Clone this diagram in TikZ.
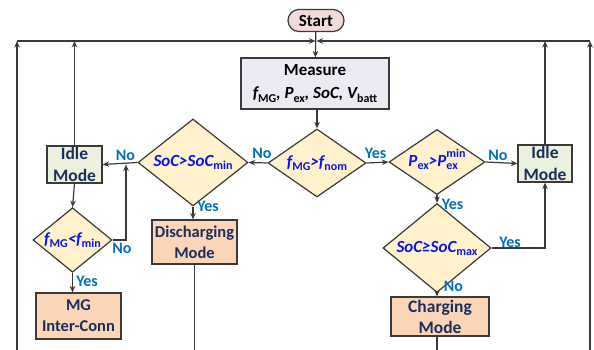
\documentclass[tikz,border=0pt]{standalone}
\usepackage{fontspec}
\setmainfont{Carlito}
\usetikzlibrary{shapes.geometric,arrows.meta}

\definecolor{linegray}{HTML}{3A3A3A}
\definecolor{startfill}{HTML}{F2DCDB}
\definecolor{measfill}{HTML}{ECEAF2}
\definecolor{idlefill}{HTML}{EBF1DE}
\definecolor{peachfill}{HTML}{FBD5B8}
\definecolor{diafill}{HTML}{FFF2CC}
\definecolor{navytext}{HTML}{1B2F5C}
\definecolor{diatext}{HTML}{0A14F0}
\definecolor{lblblue}{HTML}{0070C0}

% subscript / stacked sub-superscript helpers
\newcommand\subfnt{\fontsize{12}{12}\selectfont\upshape}
\newcommand\lo[1]{\raisebox{-0.4ex}{\subfnt #1}}
\newsavebox\hibox
\newsavebox\lobox
\newcommand\lohi[2]{\sbox\lobox{\subfnt #1}\sbox\hibox{\subfnt #2}%
  \rlap{\raisebox{1.05ex}{\usebox\hibox}}\raisebox{-0.45ex}{\usebox\lobox}%
  \ifdim\wd\hibox>\wd\lobox\hspace{\dimexpr\wd\hibox-\wd\lobox\relax}\fi}

\tikzset{
  base/.style={draw=linegray, line width=1.2pt, inner sep=0pt, align=center},
  startbox/.style={base, rounded corners=11pt, fill=startfill,
    minimum width=56pt, minimum height=22pt,
    font=\fontsize{17}{20}\selectfont\bfseries},
  measbox/.style={base, fill=measfill, minimum width=148pt, minimum height=51pt,
    font=\fontsize{17}{23}\selectfont\bfseries},
  idlebox/.style={base, fill=idlefill, text=navytext,
    font=\fontsize{17.5}{21.5}\selectfont\bfseries},
  modebox/.style={base, fill=peachfill, text=navytext,
    font=\fontsize{16.5}{21}\selectfont\bfseries},
  dia/.style={base, diamond, fill=diafill, text=diatext,
    text height=8pt, text depth=0pt,
    font=\fontsize{17}{20}\selectfont\bfseries\itshape},
  lbl/.style={text=lblblue, inner sep=0pt, font=\fontsize{16}{18}\selectfont\bfseries},
  wire/.style={line width=1.2pt, draw=linegray},
  conn/.style={wire, -{Stealth[length=6.5pt,width=5.5pt]}},
}

\begin{document}
\begin{tikzpicture}[x=1pt,y=-1pt]
\useasboundingbox (0,0) rectangle (594,350);

% blocks
\node[startbox] (start) at (316,20.5) {Start};
\node[measbox] (meas) at (315,83.5)
  {Measure\\ \itshape f\lo{MG}, P\lo{ex}, SoC, V\lo{batt}};
\node[dia, minimum width=98pt, minimum height=62pt] (dnom) at (317,163)
  {f\lo{MG}>f\lo{nom}};
\node[dia, minimum width=110pt, minimum height=69pt] (dsmin) at (193,162.5)
  {SoC>SoC\lo{min}};
\node[dia, minimum width=96pt, minimum height=62pt] (dpex) at (437,162)
  {P\lo{ex}>P\lohi{ex}{min}};
\node[idlebox, minimum width=55pt, minimum height=37pt] (idleL) at (74.5,164.5)
  {Idle\\Mode};
\node[idlebox, minimum width=54pt, minimum height=37pt] (idleR) at (545,163.5)
  {Idle\\Mode};
\node[dia, minimum width=79pt, minimum height=64pt] (dfmin) at (72.5,240)
  {f\lo{MG}<f\lo{min}};
\node[modebox, minimum width=85pt, minimum height=46pt] (mgic) at (78.5,316)
  {MG\\Inter-Conn};
\node[modebox, minimum width=85pt, minimum height=44pt] (dis) at (194.5,242)
  {Discharging\\Mode};
\node[dia, minimum width=108pt, minimum height=62pt] (dsmax) at (437,248)
  {SoC≥SoC\lo{max}};
\node[modebox, minimum width=98pt, minimum height=39pt,
  font=\fontsize{17.5}{21}\selectfont\bfseries] (chg) at (440,316.5)
  {Charging\\Mode};

% return bus along the top
\coordinate (bus) at (316,41);
\coordinate (busL) at (17,41);
\coordinate (busR) at (590,41);
\coordinate (lowL) at (17,350);
\coordinate (lowR) at (590,350);
\coordinate (disEnd) at (dis.south |- lowL);
\coordinate (chgTop) at (dsmax.south |- chg.south);
\coordinate (chgEnd) at (dsmax.south |- lowL);
\coordinate (join) at (126,164.5);

\draw[conn] (start) -- (meas);
\draw[conn] (lowL) -- (busL);
\draw[conn] (lowR) -- (busR);
\draw[conn] (idleL.north) -- (idleL.north |- busL);
\draw[conn] (idleR.north) -- (idleR.north |- busR);
\draw[conn] (busL) -- ([xshift=-0.5pt]bus);
\draw[conn] (busR) -- ([xshift=0.5pt]bus);

% decision flow
\draw[conn] (meas.south -| dnom.north) -- (dnom.north);
\draw[conn] (dnom.west) -- (dsmin.east);
\draw[conn] (dsmin.west) -- (idleL.east);
\draw[conn] (dfmin.east) -| (join);
\draw[conn] (idleL.south) -- (dfmin.north);
\draw[conn] (dfmin.south) -- (dfmin.south |- mgic.north);
\draw[conn] (dsmin.south) -- (dsmin.south |- dis.north);
\draw[wire] (dis.south) -- (disEnd);
\draw[conn] (dnom.east) -- (dpex.west);
\draw[conn] (dpex.east) -- (idleR.west);
\draw[conn] (dpex.south) -- (dsmax.north);
\draw[conn] (dsmax.east) -| (idleR.south);
\draw[conn] (dsmax.south) -- (dsmax.south |- chg.north);
\draw[wire] (chgTop) -- (chgEnd);

% branch labels
\node[lbl] (l1) at (262,153) {No};
\node[lbl] (l2) at (375.5,153) {Yes};
\node[lbl] (l3) at (125.5,155) {No};
\node[lbl] (l4) at (498,155) {No};
\node[lbl] (l5) at (208,206) {Yes};
\node[lbl] (l6) at (452.5,204) {Yes};
\node[lbl] (l7) at (510,242) {Yes};
\node[lbl] (l8) at (453.5,286) {No};
\node[lbl] (l9) at (122,248) {No};
\node[lbl] (l10) at (87,281) {Yes};
\end{tikzpicture}
\end{document}
